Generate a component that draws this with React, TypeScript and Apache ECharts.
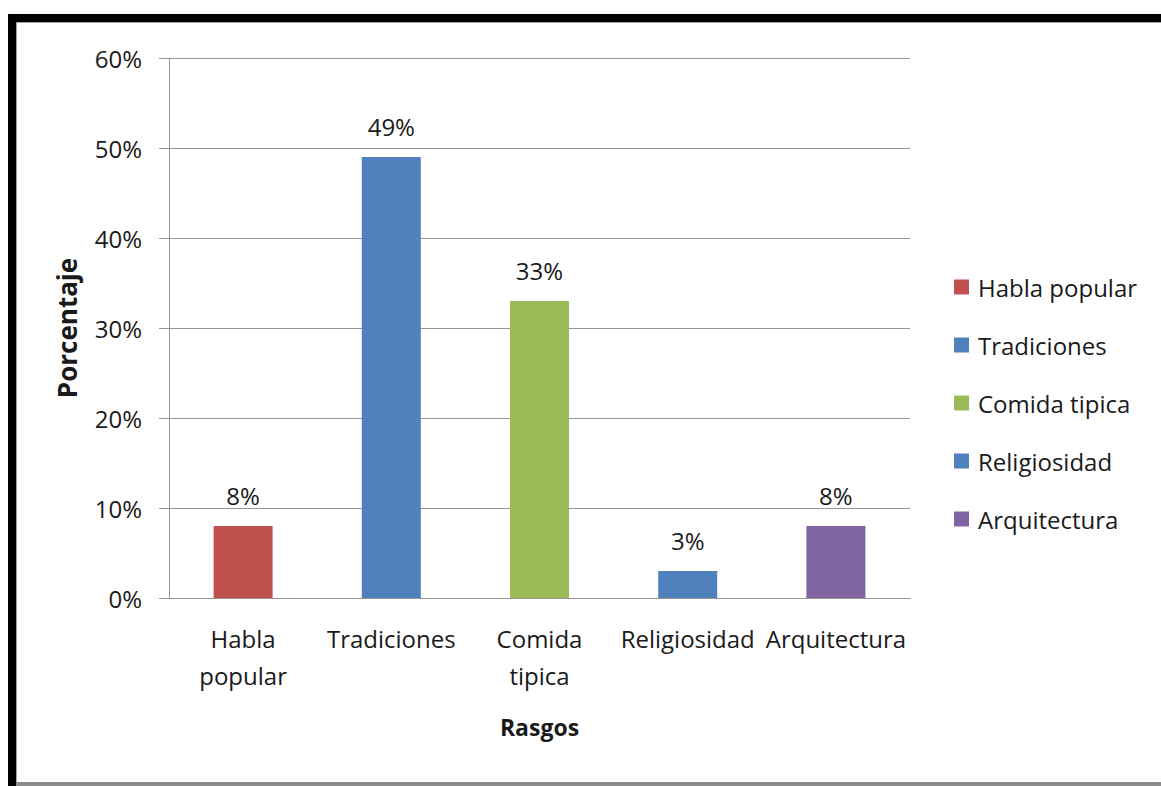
import React, { useEffect, useRef } from "react";
import * as echarts from "echarts";

const categories = ["Habla popular", "Tradiciones", "Comida tipica", "Religiosidad", "Arquitectura"];
const categoryLabels = ["Habla\npopular", "Tradiciones", "Comida\ntipica", "Religiosidad", "Arquitectura"];
const values = [8, 49, 33, 3, 8];
const colors = ["#C0504D", "#4F81BD", "#9BBB59", "#4F81BD", "#8064A2"];
const yTicks = { min: 0, max: 60, interval: 10 };

const FONT = "'Open Sans', 'Noto Sans', sans-serif";
const TEXT = "#1a1a1a";
const GRID = "#969696";

export default function App() {
  const ref = useRef<HTMLDivElement>(null);
  useEffect(() => {
    if (!ref.current) return;
    const chart = echarts.init(ref.current, undefined, { renderer: "svg" });
    const series = categories.map((name, i) => ({
      type: "bar",
      name,
      stack: "total",
      barWidth: 59,
      data: values.map((v, j) => (j === i ? v : "-")),
      itemStyle: { color: colors[i] },
      label: {
        show: true,
        position: "top",
        distance: 19,
        formatter: "{c}%",
        fontFamily: FONT,
        fontSize: 24,
        color: TEXT,
      },
    }));
    chart.setOption({
      animation: false,
      backgroundColor: "#ffffff",
      textStyle: { fontFamily: FONT },
      grid: { left: 169, right: 251, top: 58, bottom: 188, containLabel: false },
      legend: {
        data: categories,
        orient: "vertical",
        left: 954,
        top: 275,
        padding: 0,
        itemWidth: 15,
        itemHeight: 15,
        itemGap: 34,
        icon: "rect",
        selectedMode: false,
        textStyle: { fontFamily: FONT, fontSize: 24, color: TEXT, lineHeight: 24, padding: [0, 0, 0, 4] },
      },
      xAxis: {
        type: "category",
        data: categories,
        name: "Rasgos",
        nameLocation: "middle",
        nameGap: 117,
        nameTextStyle: { fontFamily: FONT, fontSize: 23, fontWeight: "bold", color: TEXT },
        axisLine: { show: true, lineStyle: { color: GRID, width: 1 } },
        axisTick: { show: false },
        axisLabel: {
          interval: 0,
          margin: 22,
          fontFamily: FONT,
          fontSize: 24,
          lineHeight: 37,
          color: TEXT,
          formatter: (_v: string, idx: number) => categoryLabels[idx],
        },
      },
      yAxis: {
        type: "value",
        min: yTicks.min,
        max: yTicks.max,
        interval: yTicks.interval,
        name: "Porcentaje",
        nameLocation: "middle",
        nameGap: 89,
        nameRotate: 90,
        nameTextStyle: { fontFamily: FONT, fontSize: 26, fontWeight: "bold", color: TEXT },
        axisLine: { show: true, lineStyle: { color: GRID, width: 1 } },
        axisTick: { show: true, length: 10, inside: false, lineStyle: { color: GRID } },
        axisLabel: { margin: 27, fontFamily: FONT, fontSize: 24, color: TEXT, formatter: "{value}%" },
        splitLine: { show: true, lineStyle: { color: GRID, width: 1 } },
      },
      graphic: [
        { type: "rect", shape: { x: 8, y: 14, width: 1153, height: 8 }, style: { fill: "#000" }, silent: true },
        { type: "rect", shape: { x: 8, y: 14, width: 8, height: 772 }, style: { fill: "#000" }, silent: true },
        { type: "rect", shape: { x: 16, y: 22, width: 1145, height: 1 }, style: { fill: "#a0a0a0" }, silent: true },
        { type: "rect", shape: { x: 16, y: 22, width: 1, height: 764 }, style: { fill: "#a0a0a0" }, silent: true },
        { type: "rect", shape: { x: 16, y: 782, width: 1145, height: 4 }, style: { fill: "#8c8c8c" }, silent: true },
      ],
      series,
    });
    return () => chart.dispose();
  }, []);
  return (
    <div
      ref={ref}
      style={{ position: "absolute", left: 0, top: 0, width: 1161, height: 786 }}
    />
  );
}
